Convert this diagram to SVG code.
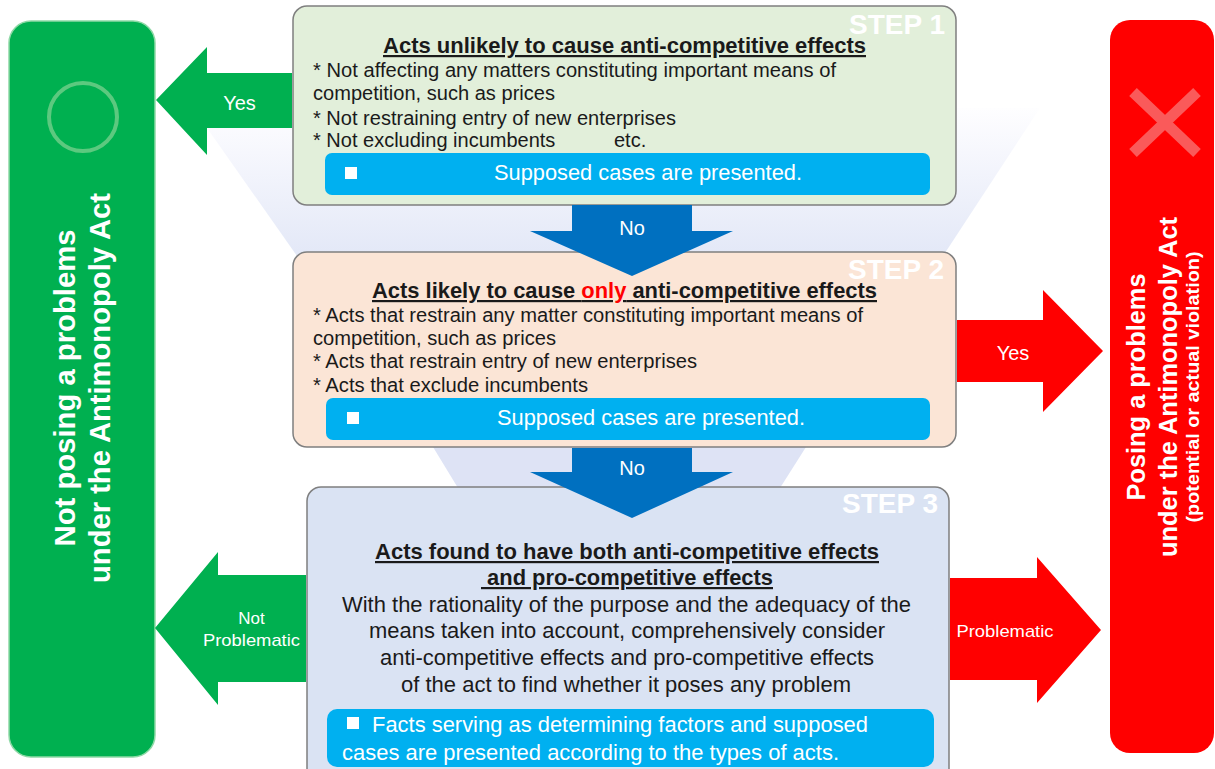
<svg xmlns="http://www.w3.org/2000/svg" width="1215" height="769" viewBox="0 0 1215 769">
<style>
text{font-family:"Liberation Sans",Arial,sans-serif}
.body{font-size:20px;fill:#1a1a1a}
.body22{font-size:22px;fill:#1a1a1a;text-anchor:middle}
.title{font-size:22px;font-weight:bold;fill:#1a1a1a;text-decoration:underline;text-anchor:middle}
.step{font-size:28px;font-weight:bold;fill:#ffffff;text-anchor:end}
.bar{fill:#00B0F0}
.bartxt{font-size:22px;fill:#ffffff}
.lbl{fill:#ffffff;text-anchor:middle}
.side{font-weight:bold;fill:#ffffff;text-anchor:middle}
.box{stroke:#7f7f7f;stroke-width:1.5}
</style>
<defs>
<linearGradient id="fun" x1="0" y1="0" x2="0" y2="1">
<stop offset="0" stop-color="#FEFEFF"/>
<stop offset="0.3" stop-color="#F6F7FD"/>
<stop offset="1" stop-color="#E3E8F7"/>
</linearGradient>
</defs>
<rect width="1215" height="769" fill="#ffffff"/>
<g id="funnel">
<polygon points="193,108 1040,108 943,256 297,256" fill="url(#fun)"/>
<polygon points="433,447 806,447 780,488 458,488" fill="#DEE3F5"/>
</g>
<g id="not-problem">
<rect x="9" y="21" width="146" height="736" rx="22" fill="#00B050" stroke="#8ED9A6" stroke-width="1.5"/>
<circle cx="83" cy="117" r="34" fill="none" stroke="#5CC97F" stroke-width="4"/>
<text class="side" font-size="29" textLength="317" lengthAdjust="spacingAndGlyphs" transform="translate(75,388) rotate(-90)">Not posing a problems</text>
<text class="side" font-size="29" textLength="390" lengthAdjust="spacingAndGlyphs" transform="translate(110,388) rotate(-90)">under the Antimonopoly Act</text>
</g>
<g id="problem">
<rect x="1110" y="20" width="104" height="733" rx="20" fill="#FF0000"/>
<path d="M1133,92 L1197,153 M1197,92 L1133,153" stroke="#FA5A5A" stroke-width="11" fill="none"/>
<text class="side" font-size="25.5" textLength="227" lengthAdjust="spacingAndGlyphs" transform="translate(1145,387) rotate(-90)">Posing a problems</text>
<text class="side" font-size="25.5" textLength="340" lengthAdjust="spacingAndGlyphs" transform="translate(1177,387) rotate(-90)">under the Antimonopoly Act</text>
<text class="side" font-size="19" textLength="271" lengthAdjust="spacingAndGlyphs" transform="translate(1199,387) rotate(-90)">(potential or actual violation)</text>
</g>
<g id="step1">
<rect class="box" x="293" y="6" width="663" height="199" rx="14" fill="#E2EFDA"/>
<text class="step" x="945" y="34">STEP 1</text>
<text class="title" x="624.5" y="53" textLength="483" lengthAdjust="spacingAndGlyphs">Acts unlikely to cause anti-competitive effects</text>
<text class="body" x="313" y="77" textLength="523" lengthAdjust="spacingAndGlyphs">* Not affecting any matters constituting important means of</text>
<text class="body" x="313" y="100" textLength="242" lengthAdjust="spacingAndGlyphs">competition, such as prices</text>
<text class="body" x="313" y="125" textLength="363" lengthAdjust="spacingAndGlyphs">* Not restraining entry of new enterprises</text>
<text class="body" y="147"><tspan x="313">* Not excluding incumbents</tspan><tspan x="614">etc.</tspan></text>
<rect class="bar" x="325" y="153" width="605" height="42" rx="7"/>
<rect x="345" y="167" width="12" height="12" fill="#ffffff"/>
<text class="bartxt" x="648" y="180" text-anchor="middle" textLength="308" lengthAdjust="spacingAndGlyphs">Supposed cases are presented.</text>
</g>
<g id="step2">
<rect class="box" x="293" y="252" width="663" height="195" rx="14" fill="#FBE5D6"/>
<text class="step" x="944" y="279">STEP 2</text>
<text class="title" x="624.5" y="298" textLength="505" lengthAdjust="spacingAndGlyphs">Acts likely to cause <tspan fill="#FF0000">only</tspan> anti-competitive effects</text>
<text class="body" x="313" y="322" textLength="550" lengthAdjust="spacingAndGlyphs">* Acts that restrain any matter constituting important means of</text>
<text class="body" x="313" y="345" textLength="243" lengthAdjust="spacingAndGlyphs">competition, such as prices</text>
<text class="body" x="313" y="368" textLength="384" lengthAdjust="spacingAndGlyphs">* Acts that restrain entry of new enterprises</text>
<text class="body" x="313" y="392" textLength="275" lengthAdjust="spacingAndGlyphs">* Acts that exclude incumbents</text>
<rect class="bar" x="326" y="398" width="604" height="42" rx="7"/>
<rect x="347" y="412" width="12" height="12" fill="#ffffff"/>
<text class="bartxt" x="651" y="425" text-anchor="middle" textLength="308" lengthAdjust="spacingAndGlyphs">Supposed cases are presented.</text>
</g>
<g id="step3">
<rect class="box" x="307" y="487" width="642" height="300" rx="14" fill="#DAE3F3"/>
<text class="step" x="938" y="513">STEP 3</text>
<text class="title" x="627" y="559" textLength="504" lengthAdjust="spacingAndGlyphs">Acts found to have both anti-competitive effects</text>
<text class="title" x="627" y="585" textLength="292" lengthAdjust="spacingAndGlyphs" xml:space="preserve"> and pro-competitive effects</text>
<text class="body22" x="626.5" y="612" textLength="569" lengthAdjust="spacingAndGlyphs">With the rationality of the purpose and the adequacy of the</text>
<text class="body22" x="627" y="638" textLength="516" lengthAdjust="spacingAndGlyphs">means taken into account, comprehensively consider</text>
<text class="body22" x="627" y="665" textLength="494" lengthAdjust="spacingAndGlyphs">anti-competitive effects and pro-competitive effects</text>
<text class="body22" x="626" y="692" textLength="450" lengthAdjust="spacingAndGlyphs">of the act to find whether it poses any problem</text>
<rect class="bar" x="327" y="709" width="607" height="58" rx="10"/>
<rect x="347" y="717" width="12" height="12" fill="#ffffff"/>
<text class="bartxt" x="372" y="732" textLength="496" lengthAdjust="spacingAndGlyphs">Facts serving as determining factors and supposed</text>
<text class="bartxt" x="342" y="760" textLength="497" lengthAdjust="spacingAndGlyphs">cases are presented according to the types of acts.</text>
</g>
<g id="connectors">
<polygon points="156,100 207,47 207,73 292,73 292,128 207,128 207,155" fill="#00B050"/>
<text class="lbl" x="239.5" y="110" font-size="20">Yes</text>
<polygon points="155,628 218,552 218,575 306,575 306,682 218,682 218,705" fill="#00B050"/>
<text class="lbl" x="251.5" y="624" font-size="17">Not</text>
<text class="lbl" x="251.5" y="646" font-size="17" textLength="97" lengthAdjust="spacingAndGlyphs">Problematic</text>
<polygon points="957,320 1043,320 1043,290 1103,351 1043,412 1043,382 957,382" fill="#FF0000"/>
<text class="lbl" x="1013" y="360" font-size="20">Yes</text>
<polygon points="950,578 1037,578 1037,557 1101,630 1037,703 1037,680 950,680" fill="#FF0000"/>
<text class="lbl" x="1005" y="637" font-size="17" textLength="97" lengthAdjust="spacingAndGlyphs">Problematic</text>
<polygon points="572,205 692,205 692,231 733,231 632,276 530,231 572,231" fill="#0070C0"/>
<text class="lbl" x="632" y="235" font-size="20">No</text>
<polygon points="572,448 692,448 692,472 733,472 632,518 530,472 572,472" fill="#0070C0"/>
<text class="lbl" x="632" y="475" font-size="20">No</text>
</g>
</svg>
